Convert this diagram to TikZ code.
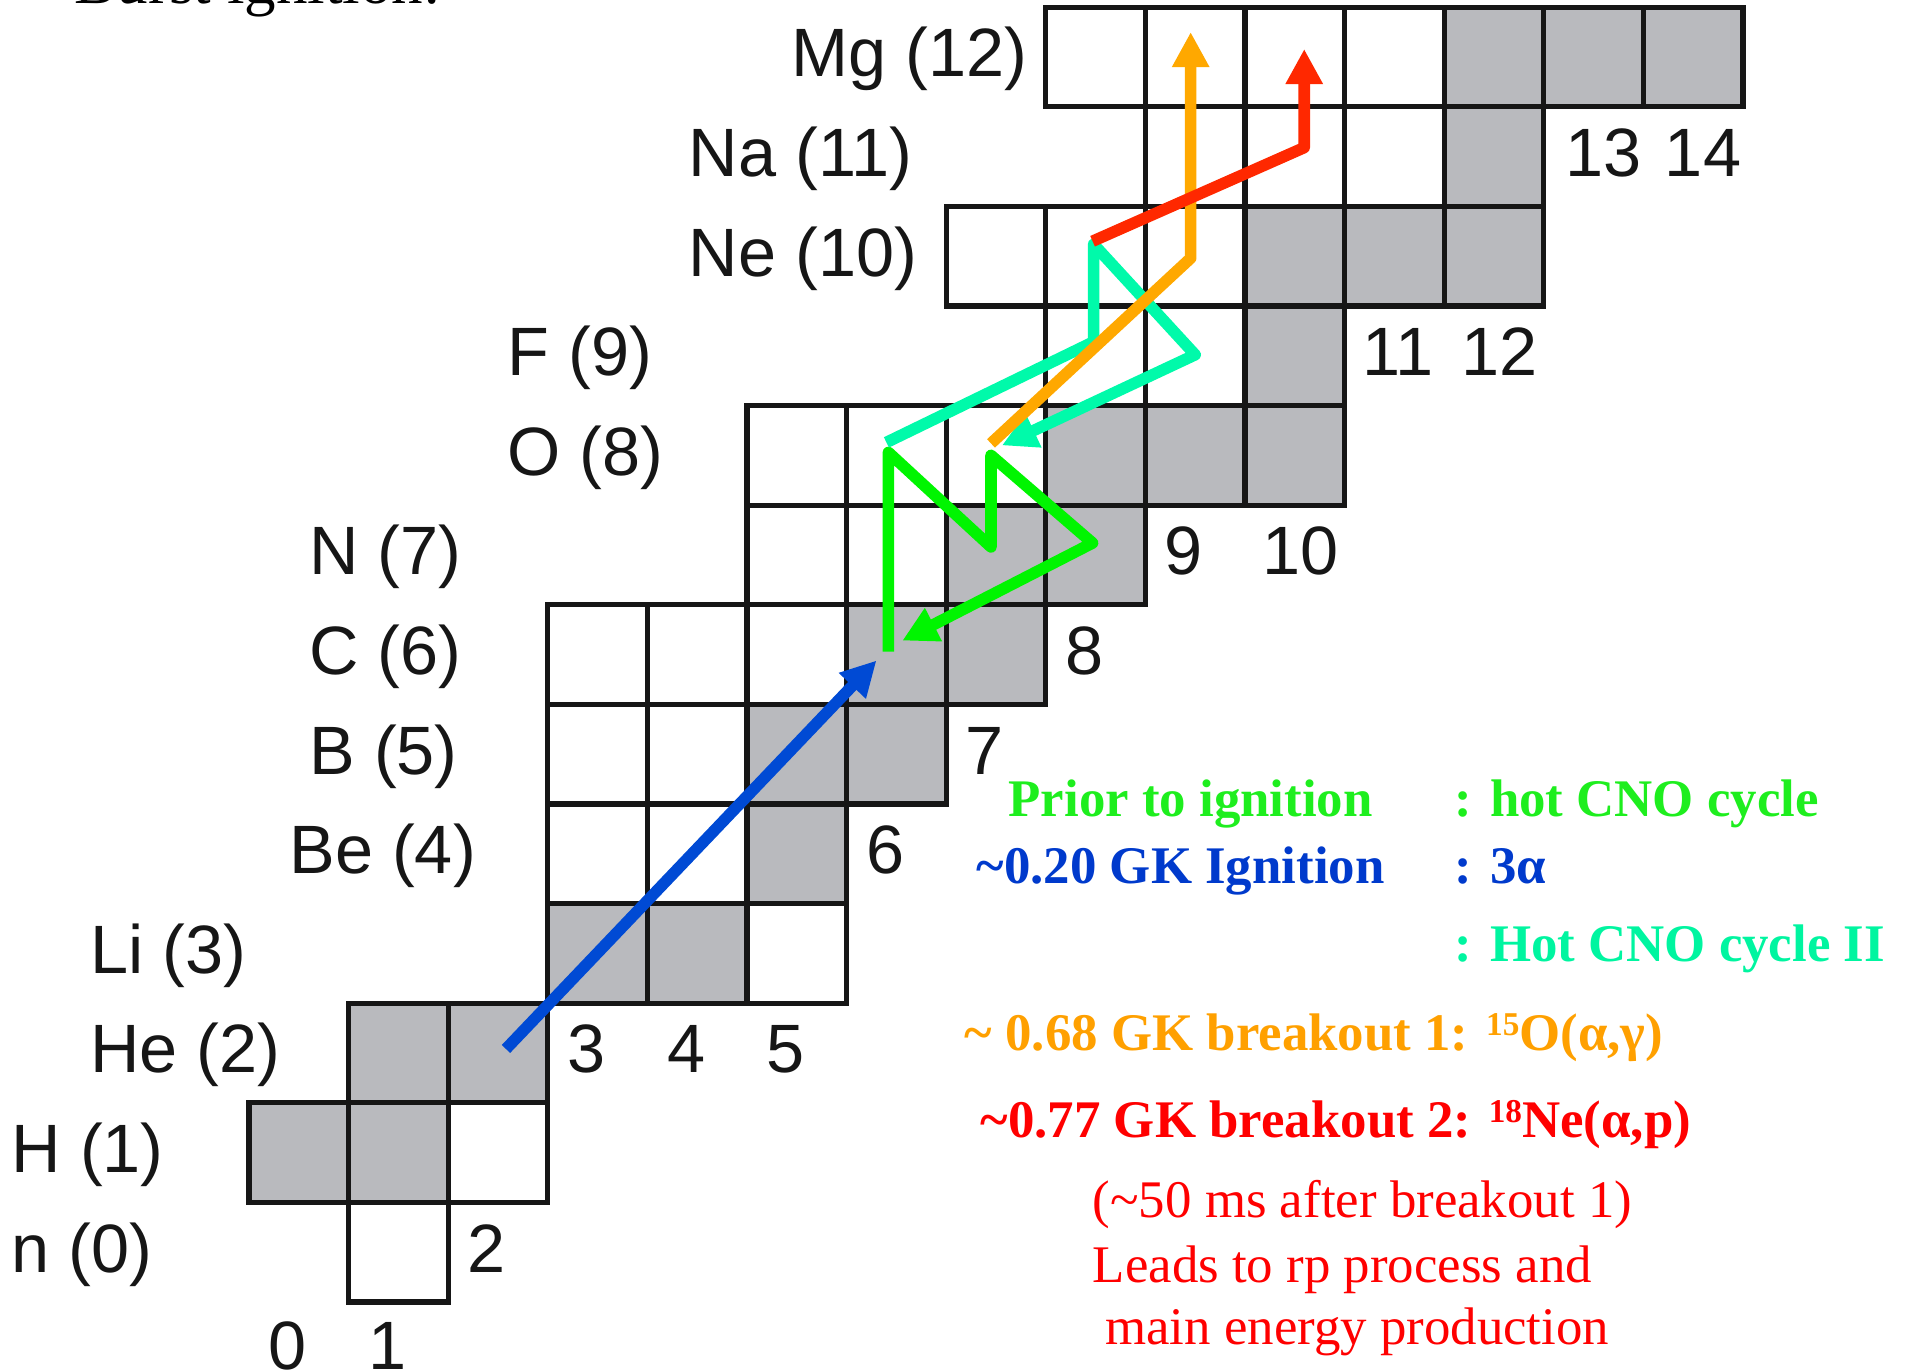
\documentclass[tikz,border=0pt]{standalone}
\usepackage{fontspec}
\setmainfont{Liberation Serif}
\newfontfamily\chartfont{Liberation Sans}
\usetikzlibrary{arrows.meta}

\definecolor{cellgray}{RGB}{185,186,190}
\definecolor{ink}{RGB}{22,22,22}
\definecolor{bluepath}{RGB}{0,74,212}
\definecolor{greenpath}{RGB}{0,245,0}
\definecolor{aquapath}{RGB}{0,250,170}
\definecolor{orangepath}{RGB}{255,168,0}
\definecolor{redpath}{RGB}{255,40,0}
\definecolor{greentext}{RGB}{30,238,30}
\definecolor{bluetext}{RGB}{0,58,204}
\definecolor{aquatext}{RGB}{0,245,160}
\definecolor{orangetext}{RGB}{255,160,0}
\definecolor{redtext}{RGB}{255,0,0}

% raised mass number for isotopes
\newcommand{\isomass}[1]{\raisebox{0.62ex}{\fontsize{9.5}{10}\selectfont #1}}

\begin{document}
\begin{tikzpicture}[x=1cm,y=1cm,
  cellfill/.style={fill=cellgray},
  cellline/.style={draw=ink, line width=1.5pt},
  elem/.style={font=\chartfont\fontsize{19.55}{23}\selectfont, text=ink, inner sep=0pt, anchor=base west},
  flow/.style={line width=3.3pt, line join=round, -{Triangle[length=10pt,width=10pt]}},
  legend/.style={font=\fontsize{15.1}{18}\selectfont\bfseries, inner sep=0pt, anchor=base west},
  note/.style={font=\fontsize{15.1}{18}\selectfont, text=redtext, inner sep=0pt, anchor=base west},
]
\useasboundingbox (-2.5,-0.683) rectangle (16.637,13.072);

% heading, partly above the page edge
\node[font=\fontsize{18}{20}\selectfont, anchor=base west, inner sep=0pt] (title) at (-1.755,13.04) {Burst ignition:};

% chart of nuclides: stable (gray) and unstable (white) cells, N across, Z up
\foreach \n/\z in {0/1,1/1,1/2,2/2,3/3,4/3,5/4,5/5,6/5,6/6,7/6,7/7,8/7,8/8,9/8,10/8,10/9,10/10,11/10,12/10,12/11,12/12,13/12,14/12}
  \fill[cellfill] (\n,\z) rectangle ++(1,1);
\foreach \n/\z in {1/0,2/1,5/3,3/4,4/4,3/5,4/5,3/6,4/6,5/6,5/7,6/7,5/8,6/8,7/8,8/9,9/9,7/10,8/10,9/10,9/11,10/11,11/11,8/12,9/12,10/12,11/12,
                   0/1,1/1,1/2,2/2,3/3,4/3,5/4,5/5,6/5,6/6,7/6,7/7,8/7,8/8,9/8,10/8,10/9,10/10,11/10,12/10,12/11,12/12,13/12,14/12}
  \draw[cellline] (\n,\z) rectangle ++(1,1);

% element names with proton number
\node[elem] (zn)  at (-2.39,0.30) {n (0)};
\node[elem] (zH)  at (-2.39,1.30) {H (1)};
\node[elem] (zHe) at (-1.60,2.30) {He (2)};
\node[elem] (zLi) at (-1.60,3.30) {Li (3)};
\node[elem] (zBe) at (0.40,4.30) {Be (4)};
\node[elem] (zB)  at (0.60,5.30) {B (5)};
\node[elem] (zC)  at (0.60,6.30) {C (6)};
\node[elem] (zN)  at (0.60,7.30) {N (7)};
\node[elem] (zO)  at (2.59,8.30) {O (8)};
\node[elem] (zF)  at (2.59,9.30) {F (9)};
\node[elem] (zNe) at (4.41,10.30) {Ne (10)};
\node[elem] (zNa) at (4.41,11.30) {Na (11)};
\node[elem, anchor=base east] (zMg) at (7.82,12.30) {Mg (12)};

% neutron numbers
\node[elem] (n0)  at (0.19,-0.68) {0};
\node[elem] (n1)  at (1.19,-0.68) {1};
\node[elem] (n2)  at (2.19,0.30) {2};
\node[elem] (n3)  at (3.19,2.30) {3};
\node[elem] (n4)  at (4.19,2.30) {4};
\node[elem] (n5)  at (5.19,2.30) {5};
\node[elem] (n6)  at (6.19,4.30) {6};
\node[elem] (n7)  at (7.19,5.30) {7};
\node[elem] (n8)  at (8.19,6.30) {8};
\node[elem] (n9)  at (9.19,7.30) {9};
\node[elem] (n10) at (10.17,7.30) {10};
\node[elem] (n11) at (11.17,9.30) {11};
\node[elem] (n12) at (12.17,9.30) {12};
\node[elem] (n13) at (13.21,11.30) {13};
\node[elem] (n14) at (14.21,11.30) {14};

% reaction path points
\coordinate (he4)   at (2.58,2.54);
\coordinate (c12a)  at (6.30,6.44);
\coordinate (c12)   at (6.42,6.53);
\coordinate (o14)   at (6.42,8.53);
\coordinate (n14)   at (7.45,7.58);
\coordinate (o15)   at (7.45,8.50);
\coordinate (n15)   at (8.47,7.62);
\coordinate (c12b)  at (6.56,6.64);
\coordinate (o14c)  at (6.40,8.63);
\coordinate (f17)   at (8.48,9.64);
\coordinate (ne18)  at (8.48,10.62);
\coordinate (f18)   at (9.50,9.51);
\coordinate (o15c)  at (7.56,8.60);
\coordinate (o15s)  at (7.45,8.62);
\coordinate (ne19)  at (9.455,10.48);
\coordinate (mg21)  at (9.455,12.75);
\coordinate (ne18s) at (8.47,10.65);
\coordinate (na21)  at (10.595,11.59);
\coordinate (mg22)  at (10.595,12.58);

% triple alpha
\draw[flow, bluepath] (he4) -- (c12a);
% hot CNO cycle
\draw[flow, greenpath] (c12) -- (o14) -- (n14) -- (o15) -- (n15) -- (c12b);
% hot CNO cycle II
\draw[flow, aquapath] (o14c) -- (f17) -- (ne18) -- (f18) -- (o15c);
% breakout 1: 15O(a,g)
\draw[flow, orangepath] (o15s) -- (ne19) -- (mg21);
% breakout 2: 18Ne(a,p)
\draw[flow, redpath] (ne18s) -- (na21) -- (mg22);

% legend
\node[legend, text=greentext] (lg1)  at (7.62,4.87) {Prior to ignition};
\node[legend, text=greentext] (lg1b) at (12.10,4.87) {: hot CNO cycle};
\node[legend, text=bluetext]  (lg2)  at (7.30,4.205) {\textasciitilde 0.20 GK Ignition};
\node[legend, text=bluetext]  (lg2b) at (12.10,4.205) {: 3α};
\node[legend, text=aquatext]  (lg3b) at (12.10,3.42) {: Hot CNO cycle II};
\node[legend, text=orangetext] (lg4) at (7.18,2.525) {\textasciitilde{} 0.68 GK breakout 1: \isomass{15}O(α,γ)};
\node[legend, text=redtext]   (lg5)  at (7.34,1.65) {\textasciitilde 0.77 GK breakout 2: \isomass{18}Ne(α,p)};
\node[note] (nt1) at (8.465,0.845) {(\textasciitilde 50 ms after breakout 1)};
\node[note] (nt2) at (8.465,0.20) {Leads to rp process and};
\node[note] (nt3) at (8.59,-0.43) {main energy production};
\end{tikzpicture}
\end{document}
